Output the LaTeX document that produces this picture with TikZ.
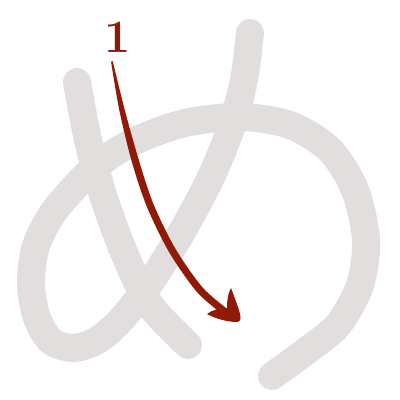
\documentclass[tikz,border=0pt]{standalone}
\definecolor{ghost}{RGB}{226,222,222}
\definecolor{inkred}{RGB}{143,26,8}
\tikzset{
  ghoststroke/.style={draw=ghost, line width=0.7cm, line cap=round, line join=round},
  redink/.style={fill=inkred, draw=none}
}
\begin{document}
\begin{tikzpicture}[x=0.025cm,y=-0.025cm]
\useasboundingbox (0,0) rectangle (400,400);
% stroke 1 (ghost)
\draw[ghoststroke] plot[smooth] coordinates {(77,82) (88,140) (103,195) (125,255) (150,305) (188,345)};
% stroke 2 (ghost)
\draw[ghoststroke] plot[smooth] coordinates {(250,33) (244,80) (232,125) (212,175) (183,230) (150,283) (120,321) (96,341) (73,348) (51,341) (37,318) (31,284) (36,246) (55,210) (95,167) (135,141) (185,123) (240,117) (290,125) (330,150) (355,190) (366,240) (360,285) (338,325) (305,352) (272,376)};
% red stroke with taper
\fill[redink] plot[smooth] coordinates {(112.9,61.8) (124.6,109.4) (138.5,159.0) (153.3,203.7) (175.1,248.2) (202.7,287.6) (230.3,311.3)}
  -- plot[smooth] coordinates {(225.7,316.7) (197.3,292.4) (168.9,251.8) (146.7,206.3) (131.6,161.0) (119.4,110.6) (111.1,62.2)} -- cycle;
\fill[redink] (112,62) circle (1);
% arrowhead
\fill[redink] (231,288) .. controls (234,296) and (238,306) .. (240,314)
  .. controls (241,318) and (241,322) .. (237,322)
  .. controls (228,322) and (216,319) .. (207,314)
  .. controls (212,310) and (220,308) .. (227,308)
  .. controls (227,300) and (228,293) .. (231,288) -- cycle;
% label
\node[text=inkred, font=\fontsize{33}{33}\selectfont\bfseries, inner sep=0pt] (lab) at (118,37) {1};
\end{tikzpicture}
\end{document}
